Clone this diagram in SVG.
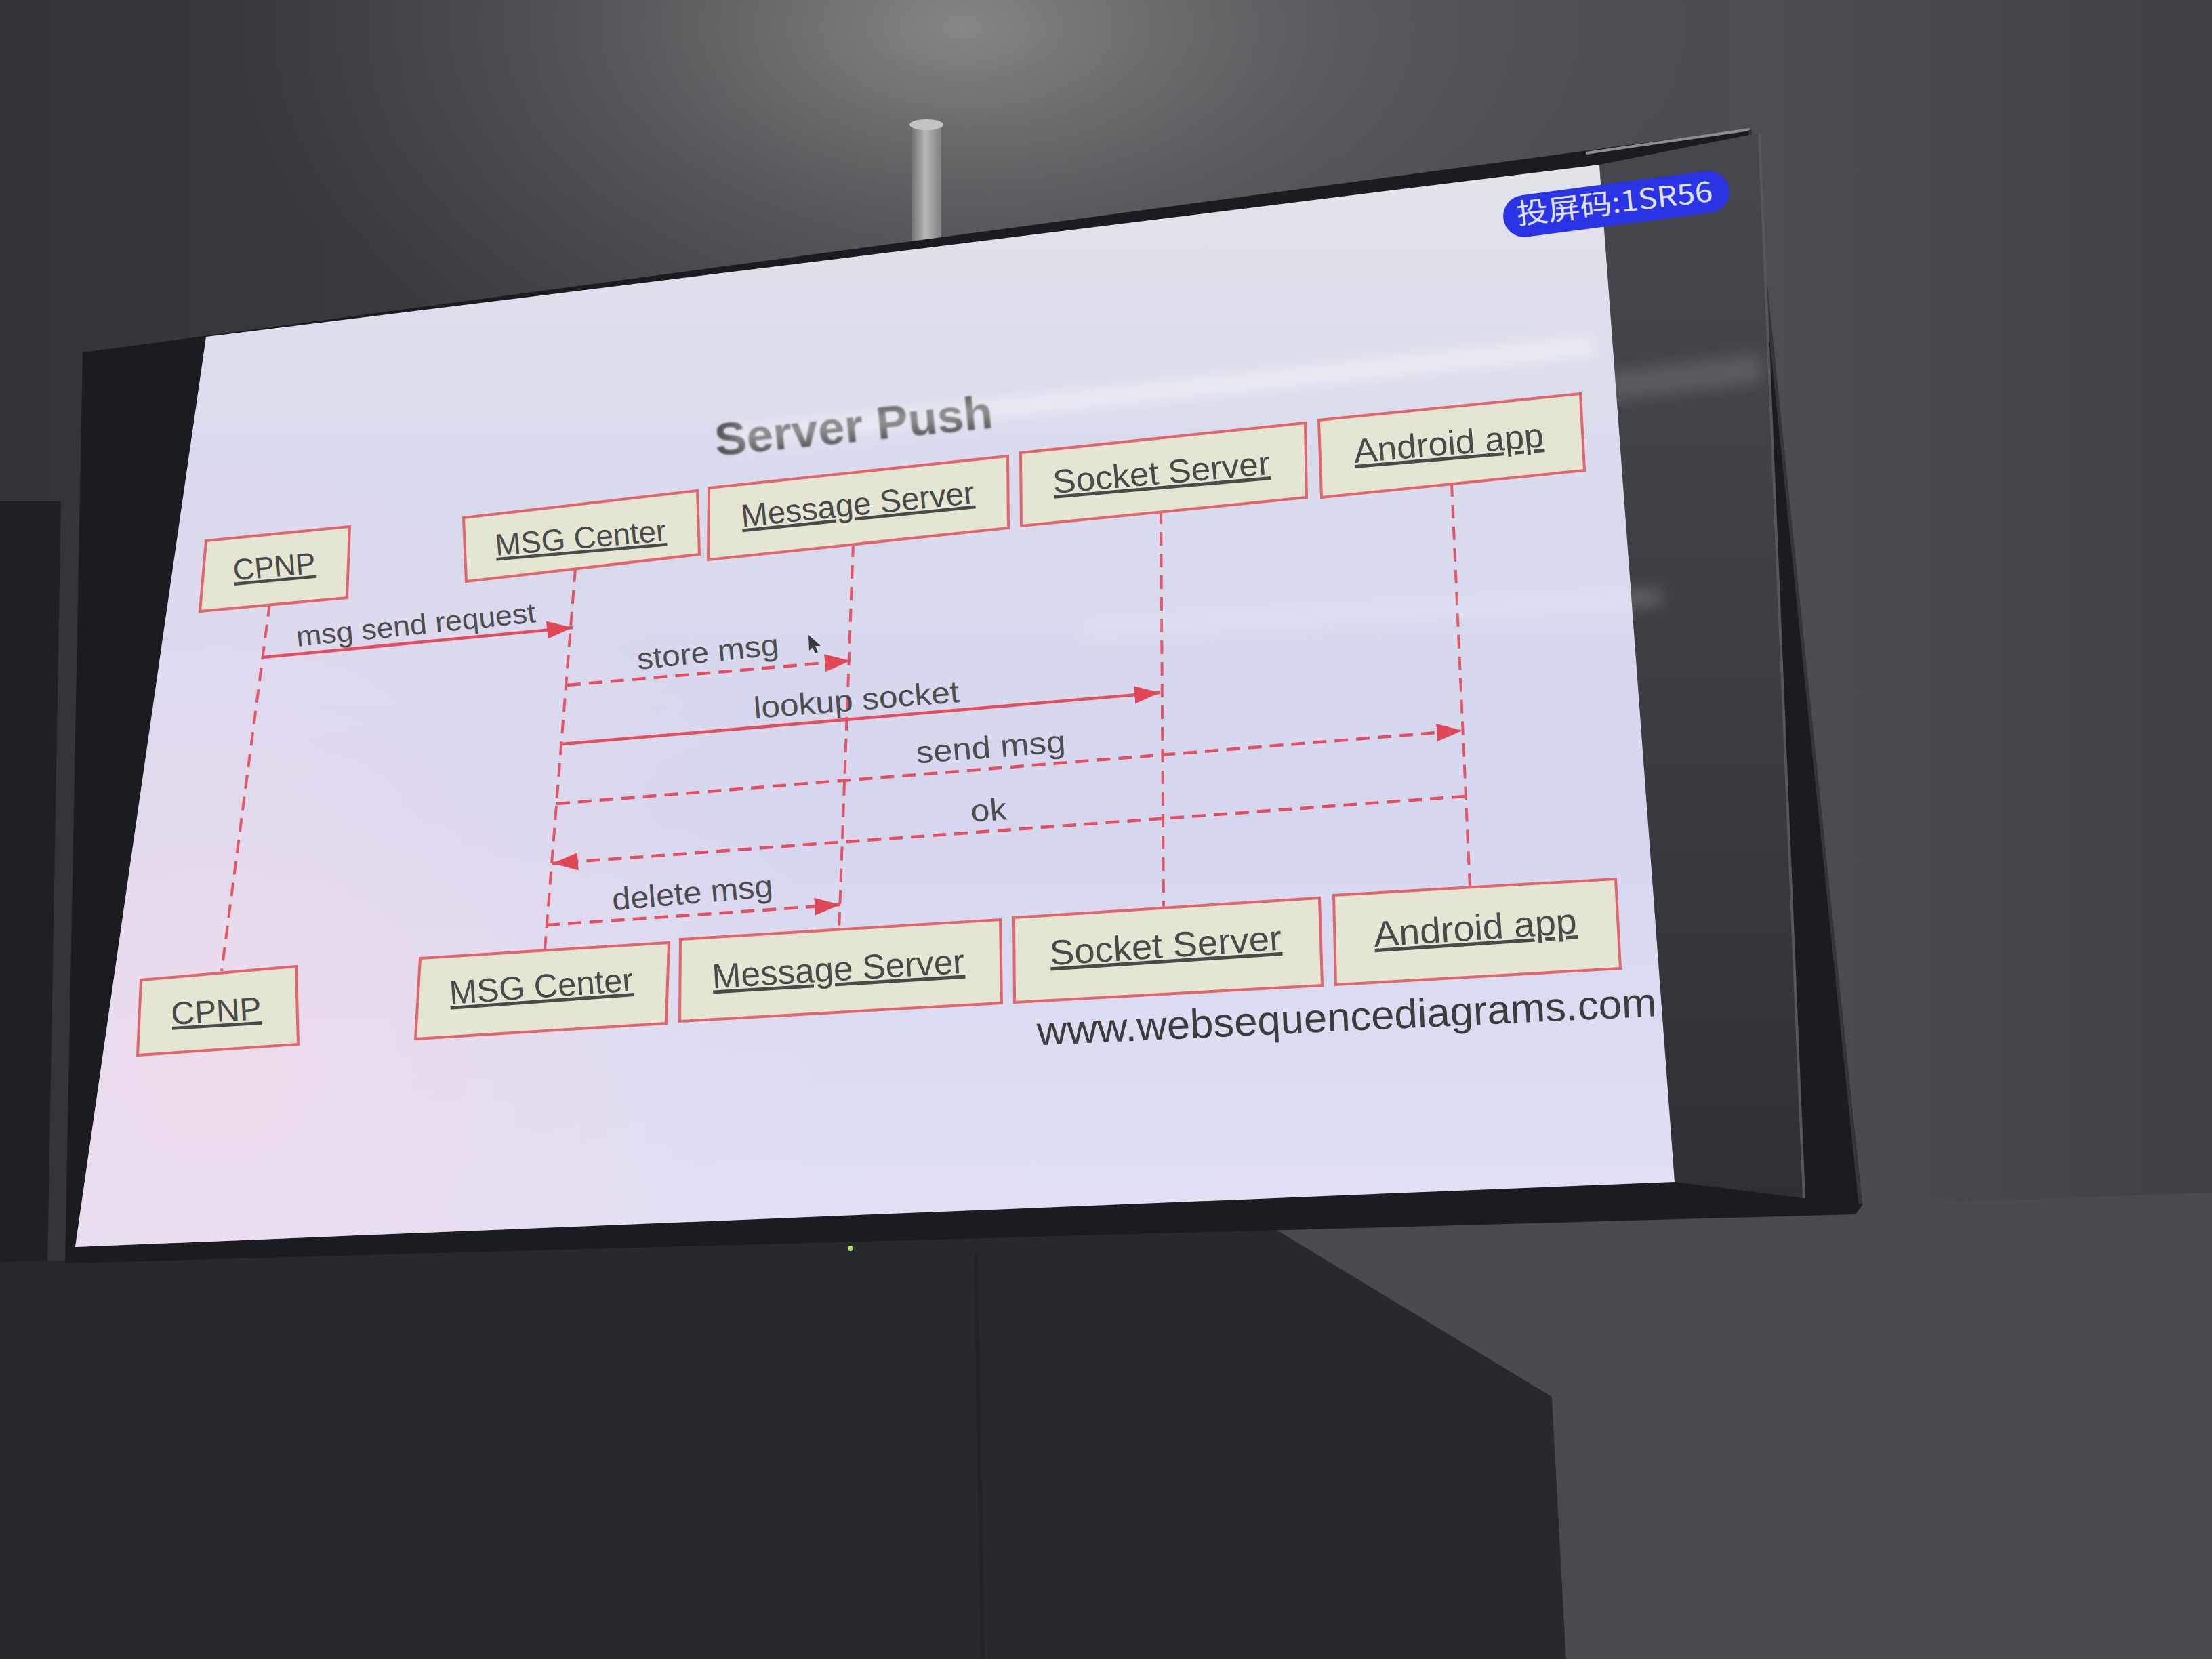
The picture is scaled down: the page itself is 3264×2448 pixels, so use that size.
<svg xmlns="http://www.w3.org/2000/svg" width="3264" height="2448" viewBox="0 0 3264 2448">
<defs>
<style>
.box{fill:#e5e5d3;stroke:#e0656c;stroke-width:4;stroke-linejoin:miter}
.lbl{font-family:"Liberation Sans",Arial,sans-serif;fill:#4a4a4a;text-anchor:middle;text-decoration:underline}
.msg{font-family:"Liberation Sans",Arial,sans-serif;fill:#4d4d4f;text-anchor:middle}
.life{fill:none;stroke:#e05866;stroke-width:4;stroke-dasharray:20 12}
.solid{fill:none;stroke:#e05060;stroke-width:4.5}
.dash{fill:none;stroke:#e05060;stroke-width:4.5;stroke-dasharray:20 12}
</style>
<marker id="ah" markerUnits="userSpaceOnUse" markerWidth="40" markerHeight="28" refX="38" refY="13" orient="auto" viewBox="0 0 40 26">
<path d="M0,0 L38,13 L0,26 Z" fill="#e04858" stroke="none"/>
</marker>
<linearGradient id="bg" x1="0" y1="0" x2="3264" y2="0" gradientUnits="userSpaceOnUse">
<stop offset="0" stop-color="#333437"/>
<stop offset="0.45" stop-color="#434447"/>
<stop offset="0.8" stop-color="#4d4e51"/>
<stop offset="1" stop-color="#3f4043"/>
</linearGradient>
<radialGradient id="glow" cx="1420" cy="40" r="1100" gradientUnits="userSpaceOnUse" gradientTransform="translate(1420 40) scale(1 0.55) translate(-1420 -40)">
<stop offset="0" stop-color="#8e8e90" stop-opacity="0.9"/>
<stop offset="0.5" stop-color="#717274" stop-opacity="0.45"/>
<stop offset="1" stop-color="#606164" stop-opacity="0"/>
</radialGradient>
<linearGradient id="slide" x1="0" y1="250" x2="0" y2="1840" gradientUnits="userSpaceOnUse">
<stop offset="0" stop-color="#e3e3ea"/>
<stop offset="0.25" stop-color="#dadbec"/>
<stop offset="0.6" stop-color="#d6d7ef"/>
<stop offset="1" stop-color="#e2e1f4"/>
</linearGradient>
<radialGradient id="pink" cx="320" cy="1560" r="900" gradientUnits="userSpaceOnUse">
<stop offset="0" stop-color="#f2dcea" stop-opacity="0.75"/>
<stop offset="1" stop-color="#f2dcea" stop-opacity="0"/>
</radialGradient>
<linearGradient id="panel" x1="0" y1="200" x2="0" y2="1770" gradientUnits="userSpaceOnUse">
<stop offset="0" stop-color="#46484d"/>
<stop offset="0.5" stop-color="#3c3e43"/>
<stop offset="1" stop-color="#2f3035"/>
</linearGradient>
<linearGradient id="pole" x1="1345" y1="0" x2="1390" y2="0" gradientUnits="userSpaceOnUse">
<stop offset="0" stop-color="#6f7072"/>
<stop offset="0.45" stop-color="#b8b8ba"/>
<stop offset="1" stop-color="#7c7d7f"/>
</linearGradient>
<filter id="blur" x="-20%" y="-200%" width="140%" height="500%">
<feGaussianBlur stdDeviation="12"/>
</filter>
<filter id="soft" x="-5%" y="-20%" width="110%" height="140%">
<feGaussianBlur stdDeviation="1.2"/>
</filter>
</defs>

<!-- room background -->
<rect x="0" y="0" width="3264" height="2448" fill="url(#bg)"/>
<rect x="0" y="0" width="3264" height="1000" fill="url(#glow)"/>
<polygon points="0,740 90,740 70,1870 0,1870" fill="#1f2024"/>
<polygon points="0,1862 1884,1815 2290,2061 2311,2448 0,2448" fill="#28292e"/>
<polygon points="1884,1815 2738,1792 2748,1778 3264,1760 3264,2448 2311,2448 2290,2061" fill="#4a4b4e"/>
<line x1="1440" y1="1850" x2="1450" y2="2448" stroke="#222327" stroke-width="6"/>

<!-- ceiling mount pole -->
<rect x="1345" y="182" width="44" height="176" fill="url(#pole)"/>
<ellipse cx="1367" cy="184" rx="25" ry="8" fill="#c4c4c6"/>

<!-- TV body -->
<polygon points="122,520 2582,190 2748,1778 2738,1792 96,1864" fill="#1b1c21"/>
<line x1="2340" y1="226" x2="2582" y2="191" stroke="#8c8e92" stroke-width="4"/>
<line x1="2582" y1="192" x2="2745" y2="1776" stroke="#34363a" stroke-width="5"/>
<polygon points="2360,243 2596,196 2662,1768 2471,1744" fill="url(#panel)"/>
<polygon points="2370,550 2598,522 2600,565 2372,592" fill="#8a8c90" opacity="0.35" filter="url(#blur)"/>
<line x1="2596" y1="196" x2="2662" y2="1768" stroke="#55575c" stroke-width="4"/>
<circle cx="1255" cy="1842" r="4" fill="#a8e060"/>

<!-- slide -->
<polygon id="slide-bg" points="304,497 2360,243 2471,1744 111,1840" fill="url(#slide)"/>
<polygon points="304,497 2360,243 2471,1744 111,1840" fill="url(#pink)"/>

<!-- title -->
<g id="title">
<text x="1262" y="652" transform="rotate(-5.8 1262 652)" font-family="'Liberation Sans',Arial,sans-serif" font-weight="bold" font-size="68" fill="#57575a" text-anchor="middle" textLength="412" lengthAdjust="spacingAndGlyphs" filter="url(#soft)">Server Push</text>
</g>

<!-- connectors -->
<g id="connectors">
<line class="life" x1="398" y1="890" x2="327" y2="1433"/>
<line class="life" x1="849" y1="839" x2="804" y2="1400"/>
<line class="life" x1="1259" y1="802" x2="1238" y2="1373"/>
<line class="life" x1="1713" y1="753" x2="1717" y2="1339"/>
<line class="life" x1="2142" y1="713" x2="2169" y2="1309"/>

<line class="solid" x1="387" y1="970" x2="845" y2="926" marker-end="url(#ah)"/>
<line class="dash" x1="837" y1="1011" x2="1255" y2="975" marker-end="url(#ah)"/>
<line class="solid" x1="829" y1="1098" x2="1712" y2="1022" marker-end="url(#ah)"/>
<line class="dash" x1="821" y1="1186" x2="2158" y2="1078" marker-end="url(#ah)"/>
<line class="dash" x1="2162" y1="1175" x2="815" y2="1274" marker-end="url(#ah)"/>
<line class="dash" x1="806" y1="1365" x2="1240" y2="1335" marker-end="url(#ah)"/>

<text class="msg" x="615" y="936" font-size="42" transform="rotate(-5.8 615 936)" textLength="355" lengthAdjust="spacingAndGlyphs">msg send request</text>
<text class="msg" x="1046" y="977" font-size="44" transform="rotate(-6 1046 977)" textLength="210" lengthAdjust="spacingAndGlyphs">store msg</text>
<text class="msg" x="1265" y="1048" font-size="45" transform="rotate(-4.6 1265 1048)" textLength="304" lengthAdjust="spacingAndGlyphs">lookup socket</text>
<text class="msg" x="1463" y="1118" font-size="46" transform="rotate(-4.4 1463 1118)" textLength="221" lengthAdjust="spacingAndGlyphs">send msg</text>
<text class="msg" x="1460" y="1211" font-size="46" transform="rotate(-4 1460 1211)" textLength="53" lengthAdjust="spacingAndGlyphs">ok</text>
<text class="msg" x="1023" y="1333" font-size="46" transform="rotate(-5 1023 1333)" textLength="238" lengthAdjust="spacingAndGlyphs">delete msg</text>
</g>

<!-- mouse cursor -->
<polygon points="1193,937 1194,960 1199,955 1203,964 1207,962 1203,953 1211,953" fill="#3a3a3c"/>

<!-- participants top -->
<g id="cpnp-top">
<polygon class="box" points="304,798 516,777 512,882 295,902"/>
<text class="lbl" x="406" y="851" font-size="44" transform="rotate(-5.2 406 851)" textLength="122" lengthAdjust="spacingAndGlyphs">CPNP</text>
</g>
<g id="msgcenter-top">
<polygon class="box" points="684,764 1029,724 1032,818 688,858"/>
<text class="lbl" x="858" y="809" font-size="45" transform="rotate(-5 858 809)" textLength="253" lengthAdjust="spacingAndGlyphs">MSG Center</text>
</g>
<g id="msgserver-top">
<polygon class="box" points="1046,720 1487,673 1488,779 1045,826"/>
<text class="lbl" x="1267" y="760" font-size="47" transform="rotate(-5.8 1267 760)" textLength="346" lengthAdjust="spacingAndGlyphs">Message Server</text>
</g>
<g id="socketserver-top">
<polygon class="box" points="1506,668 1926,624 1928,734 1507,776"/>
<text class="lbl" x="1715" y="714" font-size="49" transform="rotate(-5 1715 714)" textLength="321" lengthAdjust="spacingAndGlyphs">Socket Server</text>
</g>
<g id="android-top">
<polygon class="box" points="1946,620 2332,581 2338,694 1950,734"/>
<text class="lbl" x="2139" y="671" font-size="50" transform="rotate(-4.9 2139 671)" textLength="281" lengthAdjust="spacingAndGlyphs">Android app</text>
</g>

<!-- participants bottom -->
<g id="cpnp-bottom">
<polygon class="box" points="208,1446 437,1426 440,1541 203,1557"/>
<text class="lbl" x="320" y="1508" font-size="47" transform="rotate(-3.5 320 1508)" textLength="133" lengthAdjust="spacingAndGlyphs">CPNP</text>
</g>
<g id="msgcenter-bottom">
<polygon class="box" points="620,1414 987,1391 983,1510 613,1533"/>
<text class="lbl" x="800" y="1472" font-size="49" transform="rotate(-4.2 800 1472)" textLength="272" lengthAdjust="spacingAndGlyphs">MSG Center</text>
</g>
<g id="msgserver-bottom">
<polygon class="box" points="1004,1386 1476,1357 1478,1480 1003,1507"/>
<text class="lbl" x="1238" y="1447" font-size="51" transform="rotate(-3.5 1238 1447)" textLength="373" lengthAdjust="spacingAndGlyphs">Message Server</text>
</g>
<g id="socketserver-bottom">
<polygon class="box" points="1496,1354 1947,1325 1951,1454 1497,1479"/>
<text class="lbl" x="1721" y="1413" font-size="52" transform="rotate(-3.8 1721 1413)" textLength="343" lengthAdjust="spacingAndGlyphs">Socket Server</text>
</g>
<g id="android-bottom">
<polygon class="box" points="1968,1321 2384,1297 2391,1429 1971,1453"/>
<text class="lbl" x="2178" y="1387" font-size="53" transform="rotate(-3.8 2178 1387)" textLength="300" lengthAdjust="spacingAndGlyphs">Android app</text>
</g>

<!-- footer -->
<text x="1988" y="1521" transform="rotate(-2.7 1988 1521)" font-family="'Liberation Sans',Arial,sans-serif" font-size="60" fill="#3c3c3e" text-anchor="middle" textLength="915" lengthAdjust="spacingAndGlyphs">www.websequencediagrams.com</text>

<!-- screen glare -->
<rect x="1080" y="612" width="1280" height="26" fill="#ffffff" opacity="0.45" transform="rotate(-6 1262 625)" filter="url(#blur)"/>
<rect x="1600" y="898" width="850" height="18" fill="#ffffff" opacity="0.25" transform="rotate(-3 1950 906)" filter="url(#blur)"/>

<!-- screen-cast badge -->
<g id="badge">
<rect x="2217" y="270" width="336" height="62" rx="31" ry="31" fill="#2b34e4" transform="rotate(-7.5 2385 301)"/>
<text x="2384" y="314" transform="rotate(-6.8 2384 314)" font-family="'Noto Sans CJK SC','Noto Sans',sans-serif" font-size="42" fill="#dfe2ff" text-anchor="middle" textLength="291" lengthAdjust="spacingAndGlyphs">投屏码:1SR56</text>
</g>
</svg>
